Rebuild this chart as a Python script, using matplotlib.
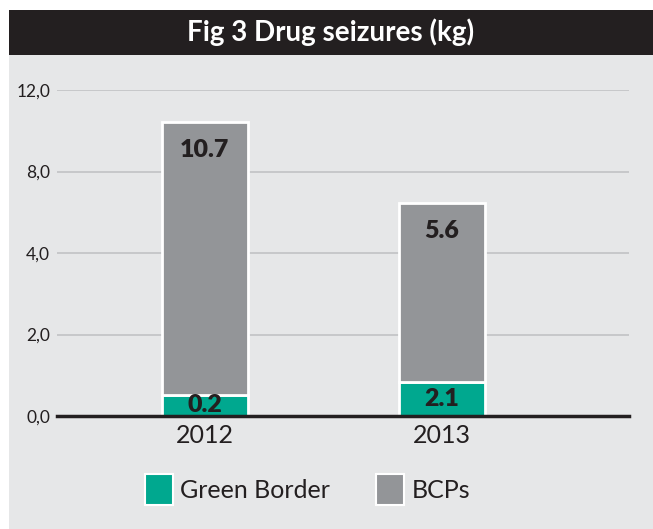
import numpy as np
import matplotlib
matplotlib.use("Agg")
import matplotlib.pyplot as plt
from matplotlib.patches import Rectangle

years = ["2012", "2013"]
green_border = [0.52, 0.83]      # bar segment heights (axis value units)
bcp_total = [10.43, 6.45]        # top of stacked bar
green_labels = ["0.2", "2.1"]
bcp_labels = ["10.7", "5.6"]
tick_values = [0, 2, 4, 8, 12]
tick_labels = ["0,0", "2,0", "4,0", "8,0", "12,0"]

bcps = [t - g for t, g in zip(bcp_total, green_border)]

FONT = ["Lato", "DejaVu Sans"]
plt.rcParams["font.family"] = FONT

GREEN = "#00a88f"
GREY = "#939598"
DARK = "#231f20"
PANEL = "#e6e7e8"

W, H = 653, 529
fig = plt.figure(figsize=(W / 100, H / 100), dpi=100)
fig.patch.set_facecolor("white")

# panel background and title bar
fig.patches.append(Rectangle((9 / W, 0), 1 - 9 / W, 1 - 55 / H, transform=fig.transFigure,
                             facecolor=PANEL, edgecolor="none", zorder=-10))
fig.patches.append(Rectangle((9 / W, 1 - 55 / H), 1 - 9 / W, 45 / H, transform=fig.transFigure,
                             facecolor=DARK, edgecolor="none", zorder=-10))
fig.text((9 + W) / 2 / W, 1 - 32 / H, "Fig 3 Drug seizures (kg)", color="white",
         fontsize=20, fontweight="bold", ha="center", va="center")

ax = fig.add_axes([57 / W, 113 / H, (629 - 57) / W, (416 - 90) / H])
ax.set_facecolor("none")
ax.set_zorder(1)

pos_v = np.array(tick_values, dtype=float)
pos_p = np.arange(len(tick_values), dtype=float)
fwd = lambda y: np.interp(y, pos_v, pos_p, left=-1, right=5)
inv = lambda p: np.interp(p, pos_p, pos_v)
ax.set_yscale("function", functions=(fwd, inv))
ax.set_ylim(0, 12)

x = np.arange(len(years))
bw = 0.36
ax.bar(x, green_border, width=bw, color=GREEN, edgecolor="white", linewidth=2, zorder=3)
ax.bar(x, bcps, width=bw, bottom=green_border, color=GREY, edgecolor="white", linewidth=2, zorder=3)
ax.set_xlim(-0.624, 1.789)

for xi, g, t, gl, bl in zip(x, green_border, bcp_total, green_labels, bcp_labels):
    ax.annotate(bl, (xi, t), xytext=(0, -20), textcoords="offset points", ha="center", va="center",
                fontsize=18, fontweight="heavy", color=DARK, zorder=4)
    ax.annotate(gl, (xi, inv(fwd(g) / 2)), xytext=(0, 0), textcoords="offset points",
                ha="center", va="center", fontsize=18, fontweight="heavy", color=DARK, zorder=4)

ax.set_yticks(tick_values)
ax.set_yticklabels(tick_labels, fontsize=12.5, color=DARK)
ax.yaxis.set_minor_locator(matplotlib.ticker.NullLocator())
ax.tick_params(axis="y", length=0, pad=5)
ax.set_xticks(x)
ax.set_xticklabels(years, fontsize=18, color=DARK)
ax.tick_params(axis="x", length=0, pad=6)
ax.grid(axis="y", color="#c4c5c7", linewidth=1.3, zorder=1)
for s in ["left", "right", "top"]:
    ax.spines[s].set_visible(False)
ax.spines["bottom"].set_color(DARK)
ax.spines["bottom"].set_linewidth(2.5)
ax.spines["bottom"].set_zorder(5)

# legend
fig.patches.append(Rectangle((145 / W, 1 - 505 / H), 28 / W, 31 / H, transform=fig.transFigure,
                             facecolor=GREEN, edgecolor="white", linewidth=1.5, zorder=2))
fig.text(180 / W, 1 - 490 / H, "Green Border", fontsize=18, color=DARK, va="center", ha="left")
fig.patches.append(Rectangle((376 / W, 1 - 505 / H), 28 / W, 31 / H, transform=fig.transFigure,
                             facecolor=GREY, edgecolor="white", linewidth=1.5, zorder=2))
fig.text(412 / W, 1 - 490 / H, "BCPs", fontsize=18, color=DARK, va="center", ha="left")

fig.savefig("out.png", dpi=100, facecolor=fig.get_facecolor())
